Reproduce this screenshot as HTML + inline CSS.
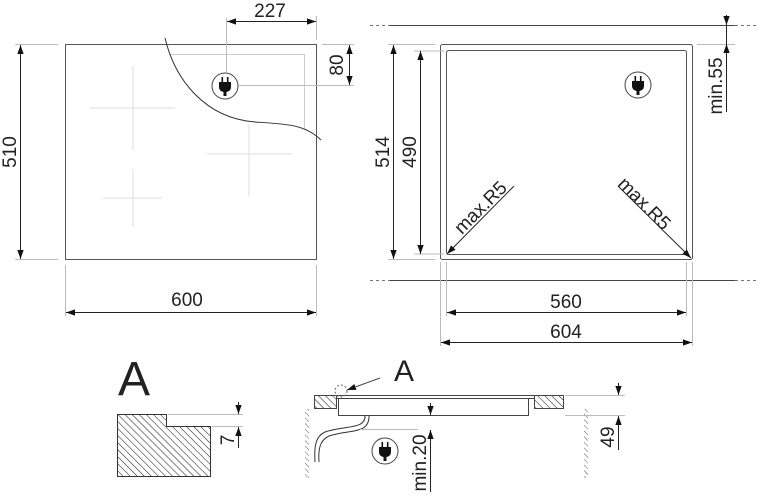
<!DOCTYPE html>
<html><head><meta charset="utf-8"><style>
html,body{margin:0;padding:0;background:#fff;width:758px;height:497px;overflow:hidden}
svg{display:block}
text{font-family:"Liberation Sans",sans-serif;fill:#222}
</style></head><body>
<svg width="758" height="497" viewBox="0 0 758 497" xmlns="http://www.w3.org/2000/svg">
<defs>
<marker id="ar" viewBox="0 0 10 10" refX="10" refY="5" markerWidth="9" markerHeight="9" orient="auto-start-reverse" markerUnits="userSpaceOnUse"><path d="M0,1.5 L10,5 L0,8.5 Z" fill="#111"/></marker>
<pattern id="h" width="5" height="5" patternUnits="userSpaceOnUse" patternTransform="rotate(-45)"><line x1="0" y1="-1" x2="0" y2="6" stroke="#222" stroke-width="1.1"/></pattern>
<pattern id="h2" width="4" height="4" patternUnits="userSpaceOnUse" patternTransform="rotate(-45)"><line x1="0" y1="-1" x2="0" y2="5" stroke="#444" stroke-width="0.9"/></pattern>
<g id="plug"><circle r="13" fill="#fff" stroke="#444" stroke-width="1"/><rect x="-3.5" y="-9" width="1.6" height="5" fill="#111"/><rect x="1.9" y="-9" width="1.6" height="5" fill="#111"/><path d="M-6,-4 H6 V1 Q6,5 1.5,6 V10 H-1.5 V6 Q-6,5 -6,1 Z" fill="#111"/></g>
</defs>
<g fill="none" stroke-width="1">
<rect x="65.5" y="44.5" width="251" height="215" stroke="#555"/>
<path d="M170,54.5 H304.5 V130" stroke="#ccc"/>
<g stroke="#ddd">
<line x1="90" y1="108" x2="175" y2="108"/><line x1="133" y1="66" x2="133" y2="150"/>
<line x1="207" y1="154" x2="292" y2="154"/><line x1="249" y1="124" x2="249" y2="196"/>
<line x1="103" y1="198" x2="162" y2="198"/><line x1="133" y1="169" x2="133" y2="227"/>
</g>
<path d="M165,38 C175,80 205,118 255,122 C285,124 305,124 321,140" stroke="#333"/>
<g stroke="#bbb">
<line x1="15" y1="44.5" x2="58" y2="44.5"/><line x1="15" y1="259.5" x2="58" y2="259.5"/>
<line x1="65.5" y1="265" x2="65.5" y2="316"/><line x1="316.5" y1="265" x2="316.5" y2="316"/>
<line x1="316.5" y1="16" x2="316.5" y2="40"/><line x1="226.5" y1="18" x2="226.5" y2="72"/>
<line x1="322" y1="44.5" x2="354" y2="44.5"/><line x1="239" y1="85.5" x2="354" y2="85.5"/>
</g>
<g stroke="#222">
<line x1="20.5" y1="45" x2="20.5" y2="259" marker-start="url(#ar)" marker-end="url(#ar)"/>
<line x1="66" y1="312.5" x2="316" y2="312.5" marker-start="url(#ar)" marker-end="url(#ar)"/>
<line x1="227" y1="21.5" x2="316" y2="21.5" marker-start="url(#ar)" marker-end="url(#ar)"/>
<line x1="349.5" y1="45" x2="349.5" y2="85" marker-start="url(#ar)" marker-end="url(#ar)"/>
</g>
<g stroke="#777" stroke-dasharray="3 3"><line x1="370" y1="25.5" x2="390" y2="25.5"/><line x1="735" y1="25.5" x2="758" y2="25.5"/><line x1="370" y1="280.5" x2="390" y2="280.5"/><line x1="735" y1="280.5" x2="758" y2="280.5"/></g>
<line x1="390" y1="25.5" x2="735" y2="25.5" stroke="#444"/>
<line x1="390" y1="280.5" x2="735" y2="280.5" stroke="#444"/>
<rect x="440.5" y="44.5" width="252" height="215" rx="2" stroke="#555"/>
<rect x="446.5" y="50.5" width="240" height="204" rx="2" stroke="#555"/>
<g stroke="#bbb">
<line x1="388" y1="44.5" x2="435" y2="44.5"/><line x1="388" y1="259.5" x2="435" y2="259.5"/>
<line x1="414" y1="51" x2="444" y2="51"/><line x1="414" y1="254" x2="444" y2="254"/>
<line x1="697" y1="44.5" x2="735" y2="44.5"/>
<line x1="440.5" y1="262" x2="440.5" y2="346"/><line x1="692.5" y1="262" x2="692.5" y2="346"/>
<line x1="446.5" y1="262" x2="446.5" y2="316"/><line x1="686.5" y1="262" x2="686.5" y2="316"/>
</g>
<g stroke="#222">
<line x1="393.5" y1="45" x2="393.5" y2="259" marker-start="url(#ar)" marker-end="url(#ar)"/>
<line x1="420.5" y1="51" x2="420.5" y2="254" marker-start="url(#ar)" marker-end="url(#ar)"/>
<line x1="447" y1="312.5" x2="686" y2="312.5" marker-start="url(#ar)" marker-end="url(#ar)"/>
<line x1="441" y1="342.5" x2="692" y2="342.5" marker-start="url(#ar)" marker-end="url(#ar)"/>
<line x1="726.5" y1="15" x2="726.5" y2="25" marker-end="url(#ar)"/>
<line x1="726.5" y1="112" x2="726.5" y2="44" marker-end="url(#ar)"/>
<line x1="726.5" y1="25" x2="726.5" y2="44"/>
<line x1="514" y1="186" x2="447" y2="254" marker-end="url(#ar)"/>
<line x1="618" y1="186" x2="691" y2="258" marker-end="url(#ar)"/>
</g>
<path d="M117.5,414.5 H166.5 V426.5 H210.5 V476.5 H117.5 Z" fill="url(#h)" stroke="#333"/>
<g stroke="#bbb"><line x1="168" y1="414.5" x2="243" y2="414.5"/><line x1="212" y1="426.5" x2="243" y2="426.5"/></g>
<g stroke="#222"><line x1="238.5" y1="402" x2="238.5" y2="414" marker-end="url(#ar)"/><line x1="238.5" y1="448" x2="238.5" y2="427" marker-end="url(#ar)"/></g>
<rect x="314.5" y="395.5" width="22" height="13" fill="url(#h)" stroke="#444"/>
<rect x="534.5" y="395.5" width="29" height="13" fill="url(#h)" stroke="#444"/>
<rect x="305" y="409" width="4" height="69" fill="url(#h2)"/>
<rect x="584" y="409" width="4" height="69" fill="url(#h2)"/>
<line x1="336" y1="395.5" x2="535" y2="395.5" stroke="#444"/>
<line x1="336" y1="398.5" x2="535" y2="398.5" stroke="#444"/>
<rect x="338.5" y="398.5" width="190" height="17" stroke="#444"/>
<circle cx="341" cy="391" r="6" stroke="#666" stroke-dasharray="2 2"/>
<line x1="380" y1="378" x2="347" y2="390" stroke="#444" marker-end="url(#ar)"/>
<path d="M365,415 C366,430 345,425 325,432 C316,436 314,445 315,462" stroke="#333"/>
<path d="M369,415 C370,435 349,429 329,436 C320,440 318,449 319,462" stroke="#333"/>
<g stroke="#bbb"><line x1="565" y1="395.5" x2="625" y2="395.5"/><line x1="565" y1="415.5" x2="625" y2="415.5"/><line x1="360" y1="429.5" x2="418" y2="429.5"/></g>
<g stroke="#222">
<line x1="430.5" y1="403" x2="430.5" y2="415" marker-end="url(#ar)"/>
<line x1="430.5" y1="492" x2="430.5" y2="430" marker-end="url(#ar)"/>
<line x1="618.5" y1="383" x2="618.5" y2="395" marker-end="url(#ar)"/>
<line x1="618.5" y1="450" x2="618.5" y2="416" marker-end="url(#ar)"/>
</g>
</g>
<use href="#plug" x="225" y="86"/>
<use href="#plug" x="638" y="85"/>
<use href="#plug" x="385" y="451"/>
<g font-size="19">
<text x="270" y="17" text-anchor="middle">227</text>
<text x="187" y="306" text-anchor="middle">600</text>
<text transform="translate(16,152) rotate(-90)" text-anchor="middle">510</text>
<text transform="translate(343,65) rotate(-90)" text-anchor="middle">80</text>
<text transform="translate(389,152) rotate(-90)" text-anchor="middle">514</text>
<text transform="translate(416,152) rotate(-90)" text-anchor="middle">490</text>
<text transform="translate(722,86) rotate(-90)" text-anchor="middle">min.55</text>
<text x="566" y="308" text-anchor="middle">560</text>
<text x="566" y="338" text-anchor="middle">604</text>
<text transform="translate(485,212) rotate(-45)" text-anchor="middle">max.R5</text>
<text transform="translate(640,208) rotate(45)" text-anchor="middle">max.R5</text>
<text transform="translate(234,440) rotate(-90)" text-anchor="middle">7</text>
<text transform="translate(614,437) rotate(-90)" text-anchor="middle">49</text>
<text transform="translate(426,463) rotate(-90)" text-anchor="middle">min.20</text>
</g>
<text x="118" y="395" font-size="48">A</text>
<text x="394" y="381" font-size="30">A</text>
</svg>
</body></html>
